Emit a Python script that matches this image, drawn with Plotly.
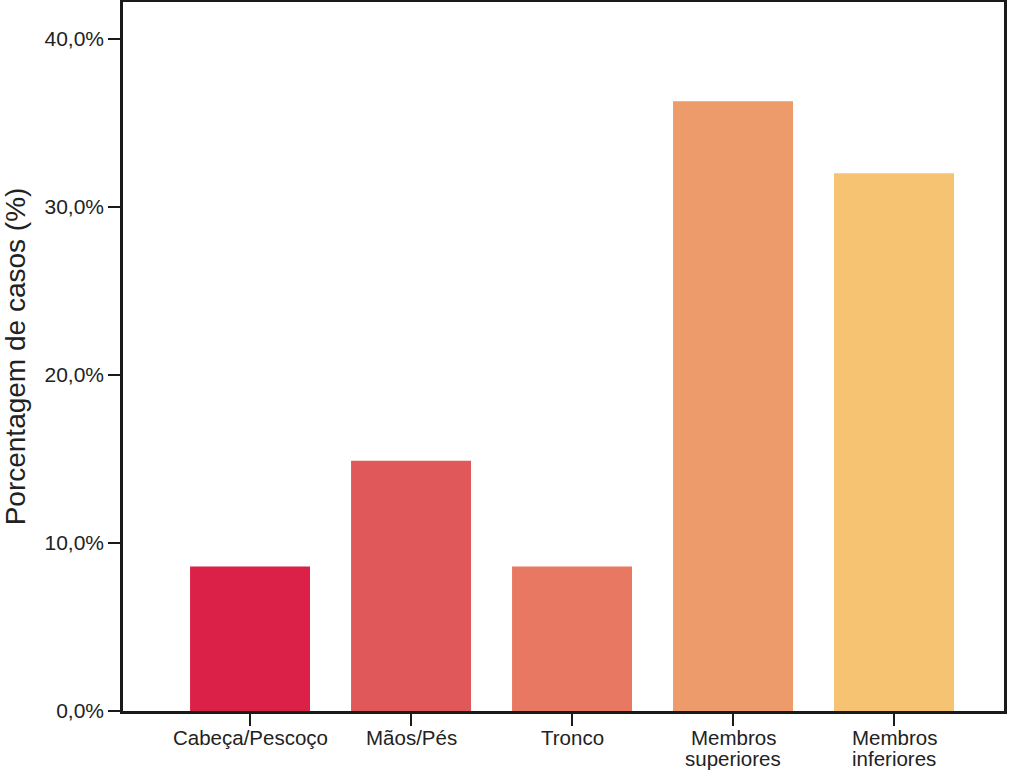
import plotly.graph_objects as go

categories = ["Cabeça/Pescoço", "Mãos/Pés", "Tronco", "Membros superiores", "Membros inferiores"]
label_lines = [["Cabeça/Pescoço"], ["Mãos/Pés"], ["Tronco"], ["Membros", "superiores"], ["Membros", "inferiores"]]
values = [8.6, 14.9, 8.6, 36.3, 32.0]
colors = ["#DC2149", "#E0585A", "#E87862", "#EE9B6B", "#F5C371"]
tick_vals = [0, 10, 20, 30, 40]
tick_text = ["0,0%", "10,0%", "20,0%", "30,0%", "40,0%"]

fig = go.Figure(
    go.Bar(
        x=categories,
        y=values,
        marker=dict(color=colors, line=dict(width=0)),
        width=0.745,
    )
)

font_family = "Liberation Sans, Arial, sans-serif"

# category labels drawn as annotations (tighter line spacing than tick labels allow)
for cat, lines in zip(categories, label_lines):
    for i, line in enumerate(lines):
        fig.add_annotation(
            x=cat, xref="x", y=0, yref="y",
            text=line, showarrow=False,
            xanchor="center", yanchor="top",
            yshift=-13 - 21 * i,
            font=dict(size=20.5, family=font_family, color="#222222"),
        )

fig.update_layout(
    width=1024,
    height=770,
    margin=dict(l=123, r=20, t=2, b=59),
    paper_bgcolor="white",
    plot_bgcolor="white",
    showlegend=False,
    font=dict(family=font_family, color="#222222", size=20),
    xaxis=dict(
        type="category",
        range=[-0.789, 4.683],
        automargin=False,
        showline=True,
        linecolor="#1a1a1a",
        linewidth=2.5,
        mirror=True,
        ticks="outside",
        ticklen=12,
        tickwidth=2,
        tickcolor="#1a1a1a",
        showgrid=False,
        zeroline=False,
        showticklabels=False,
    ),
    yaxis=dict(
        range=[0, 42.2],
        automargin=False,
        tickvals=tick_vals,
        ticktext=tick_text,
        showline=True,
        linecolor="#1a1a1a",
        linewidth=2.5,
        mirror=True,
        ticks="outside",
        ticklen=12,
        tickwidth=2,
        tickcolor="#1a1a1a",
        showgrid=False,
        zeroline=False,
        tickfont=dict(size=21, family=font_family, color="#222222"),
        title=dict(text="Porcentagem de casos (%)", font=dict(size=28, family=font_family, color="#222222"), standoff=18),
    ),
)

fig.write_html("out.html")
